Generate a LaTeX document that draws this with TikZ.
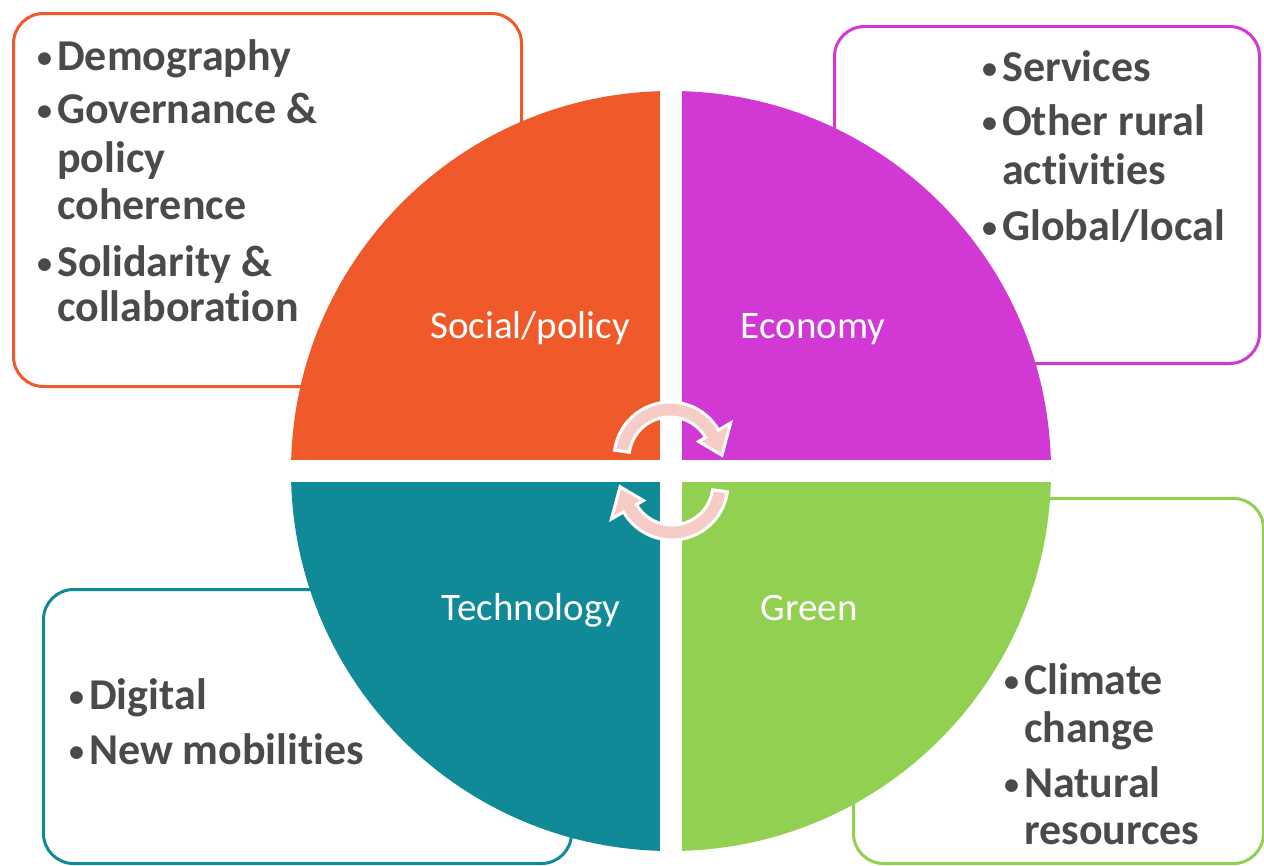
\documentclass[tikz,border=0pt]{standalone}
\usepackage{fontspec}
\setmainfont{Carlito}[Ligatures={NoCommon,NoRare,NoContextual},Contextuals=NoAlternate]
\usetikzlibrary{calc}
\definecolor{cOrange}{RGB}{240,90,42}
\definecolor{cPurple}{RGB}{210,56,212}
\definecolor{cTeal}{RGB}{17,138,152}
\definecolor{cGreen}{RGB}{145,208,80}
\definecolor{cPink}{RGB}{246,204,198}
\definecolor{cText}{RGB}{74,74,74}
\newcommand\bul{\makebox[21pt][l]{\hspace{1pt}\raisebox{3pt}{\fontsize{30}{30}\selectfont•}}}
\newcommand\ind{\hspace*{21pt}}
\begin{document}
\begin{tikzpicture}[x=1pt,y=1pt,
  box/.style={rectangle, line width=3pt, rounded corners=30pt, fill=white, anchor=north west, inner sep=0pt},
  item/.style={anchor=base west, inner sep=0pt, text=cText, font=\fontsize{44}{48}\selectfont\bfseries},
  qlabel/.style={anchor=base, inner sep=0pt, text=white, font=\fontsize{39}{42}\selectfont},
  cyc/.style={fill=cPink, draw=white, line width=3pt, line join=miter}]
\useasboundingbox (0,0) rectangle (1264,-865);
\fill[white] (0,0) rectangle (1264,-865);

% boxes behind the circle
\node[box, draw=cOrange, minimum width=508pt, minimum height=373pt] (obox) at (12,-12) {};
\node[box, draw=cPurple, minimum width=425pt, minimum height=337pt] (pbox) at (833,-25) {};
\node[box, draw=cGreen,  minimum width=410pt, minimum height=365pt] (gbox) at (852,-497) {};
\node[box, draw=cTeal,   minimum width=528pt, minimum height=274pt] (tbox) at (42,-588) {};

% circle of four quadrants
\coordinate (C) at (671,-471);
\begin{scope}
  \clip (C) circle[radius=380];
  \fill[cOrange] (C) rectangle ++(-400,400);
  \fill[cPurple] (C) rectangle ++(400,400);
  \fill[cTeal]   (C) rectangle ++(-400,-400);
  \fill[cGreen]  (C) rectangle ++(400,-400);
  \fill[white] ($(C)+(-11,-400)$) rectangle ($(C)+(11,400)$);
  \fill[white] ($(C)+(-400,-11)$) rectangle ($(C)+(400,11)$);
\end{scope}

% circular arrows
\coordinate (c1) at (670,-458);
\coordinate (c2) at (672,-484);
\path[cyc] ($(c1)+(172:56)$) arc[start angle=172, end angle=30, radius=56]
  -- ($(c1)+(30:70)$) -- ($(c1)+(3:52)$) -- ($(c1)+(30:33)$) -- ($(c1)+(30:41)$)
  arc[start angle=30, end angle=172, radius=41] -- cycle;
\path[cyc] ($(c2)+(352:56)$) arc[start angle=352, end angle=210, radius=56]
  -- ($(c2)+(210:70)$) -- ($(c2)+(183:52)$) -- ($(c2)+(210:33)$) -- ($(c2)+(210:41)$)
  arc[start angle=210, end angle=352, radius=41] -- cycle;

% quadrant labels
\node[qlabel] (lsoc) at (530,-338) {Social/policy};
\node[qlabel] (leco) at (813,-338) {Economy};
\node[qlabel] (ltec) at (531,-620) {Technology};
\node[qlabel] (lgre) at (809,-620) {Green};

% orange box items
\node[item] (o1) at (36,-70)  {\bul Demography};
\node[item] (o2) at (36,-123) {\bul Governance \&};
\node[item] (o3) at (36,-172) {\ind policy};
\node[item] (o4) at (36,-219) {\ind coherence};
\node[item] (o5) at (36,-276) {\bul Solidarity \&};
\node[item] (o6) at (36,-321) {\ind collaboration};

% purple box items
\node[item] (p1) at (981,-81)  {\bul Services};
\node[item] (p2) at (981,-135) {\bul Other rural};
\node[item] (p3) at (981,-184) {\ind activities};
\node[item] (p4) at (981,-240) {\bul Global/local};

% green box items
\node[item] (g1) at (1003,-694) {\bul Climate};
\node[item] (g2) at (1003,-742) {\ind change};
\node[item] (g3) at (1003,-797) {\bul Natural};
\node[item] (g4) at (1003,-844) {\ind resources};

% teal box items
\node[item] (t1) at (68,-709) {\bul Digital};
\node[item] (t2) at (68,-764) {\bul New mobilities};
\end{tikzpicture}
\end{document}
